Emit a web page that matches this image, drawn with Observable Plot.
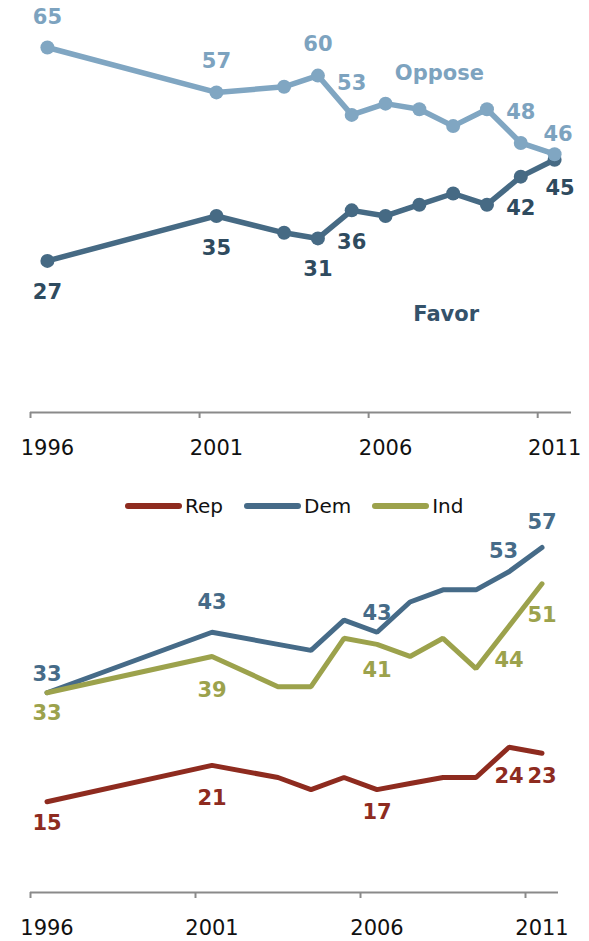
<!DOCTYPE html>
<html><head><meta charset="utf-8">
<script src="https://cdn.jsdelivr.net/npm/d3@7"></script>
<script src="https://cdn.jsdelivr.net/npm/@observablehq/plot@0.6"></script>
<style>
html,body{margin:0;padding:0;background:#fff;}
#wrap{position:relative;width:589px;height:941px;overflow:hidden;font-family:"DejaVu Sans",Verdana,sans-serif;}
#top,#bottom{position:absolute;left:0;}
#top{top:0}
#bottom{top:470px}
#legend{position:absolute;left:125px;top:486px;height:40px;display:flex;align-items:center;font-size:20px;color:#111;z-index:2}
.item{display:flex;align-items:center;margin-right:21px}
.item svg{margin-right:3px;display:block}
</style></head>
<body><div id="wrap"><div id="top"></div><div id="legend"></div><div id="bottom"></div></div>
<script>
// ---- data ----
const years = [1996, 2001, 2003, 2004, 2005, 2006, 2007, 2008, 2009, 2010, 2011];
const oppose = [65, 57, 58, 60, 53, 55, 54, 51, 54, 48, 46];
const favor  = [27, 35, 32, 31, 36, 35, 37, 39, 37, 42, 45];
const rep = [15, 21, 19, 17, 19, 17, 18, 19, 19, 24, 23];
const dem = [33, 43, 41, 40, 45, 43, 48, 50, 50, 53, 57];
const ind = [33, 39, 34, 34, 42, 41, 39, 42, 37, 44, 51];
const tickLabelYears = [1996, 2001, 2006, 2011];
const tickMarkYears = [1995.5, 2000.5, 2005.5, 2010.5];
const seriesNames = ["Rep", "Dem", "Ind"];
const opposeLabelYears = [1996, 2001, 2004, 2005, 2010, 2011];
const favorLabelYears = [1996, 2001, 2004, 2005, 2010, 2011];
const partyLabelYears = [1996, 2001, 2006, 2010, 2011];

// ---- styles ----
const FONT = "DejaVu Sans, Verdana, sans-serif";
const C = {oppose: "#80a6c2", opposeText: "#7da3bf", favor: "#466a84", favorText: "#2f4b5f",
           Rep: "#8e2b1f", Dem: "#466b88", Ind: "#9ca24c", axis: "#8a8a8a"};
const offs = {
  oppose: {dy: {1996: -30, 2001: -31, 2004: -31, 2005: -32, 2010: -31, 2011: -20}, dx: {2011: 3.5}},
  favor:  {dy: {1996: 31.5, 2001: 32.5, 2004: 31, 2005: 32, 2010: 32, 2011: 28}, dx: {2011: 5.5}},
  Dem: {dy: {1996: -18, 2001: -30, 2006: -19, 2010: -20, 2011: -25}, dx: {2010: -5.5}},
  Ind: {dy: {1996: 21, 2001: 33.5, 2006: 25.5, 2010: 34, 2011: 31.5}, dx: {}},
  Rep: {dy: {1996: 22, 2001: 32.5, 2006: 22.5, 2010: 29, 2011: 23}, dx: {}}
};

const rows = vals => years.map((year, i) => ({year, value: vals[i]}));
function labels(data, labelYears, o, fill) {
  return data.filter(d => labelYears.includes(d.year)).map(d =>
    Plot.text([d], {x: "year", y: "value", text: d => String(d.value), dy: o.dy[d.year] || 0, dx: o.dx[d.year] || 0,
      fill, fontSize: 21, fontWeight: "bold", fontFamily: FONT}));
}
function axisMarks() {
  return [
    Plot.ruleY([0], {stroke: C.axis, strokeWidth: 2}),
    Plot.axisX({ticks: tickMarkYears, tickSize: 6, tickFormat: () => "", label: null, stroke: C.axis, strokeWidth: 2}),
    Plot.axisX({ticks: tickLabelYears, tickSize: 0, tickPadding: 28, tickFormat: d => String(d), label: null,
      fontSize: 21, fontFamily: FONT, fill: "#111"})
  ];
}

const opp = rows(oppose), fav = rows(favor);
const topPlot = Plot.plot({
  width: 589, height: 470, marginTop: 47, marginBottom: 58, marginLeft: 30, marginRight: 18,
  style: {background: "transparent", overflow: "visible"},
  x: {domain: [1995.5, 2011.5], axis: null, label: null},
  y: {domain: [0, 65], axis: null},
  marks: [
    ...axisMarks(),
    Plot.line(fav, {x: "year", y: "value", stroke: C.favor, strokeWidth: 5.5, strokeLinejoin: "round"}),
    Plot.dot(fav, {x: "year", y: "value", r: 7, fill: C.favor}),
    Plot.line(opp, {x: "year", y: "value", stroke: C.oppose, strokeWidth: 5.5, strokeLinejoin: "round"}),
    Plot.dot(opp, {x: "year", y: "value", r: 7, fill: C.oppose}),
    ...labels(opp, opposeLabelYears, offs.oppose, C.opposeText),
    ...labels(fav, favorLabelYears, offs.favor, C.favorText),
    Plot.text(opp.filter(d => d.year === 2007), {x: "year", y: "value", text: () => "Oppose", dx: 20, dy: -36,
      fill: C.opposeText, fontSize: 21, fontWeight: "bold", fontFamily: FONT}),
    Plot.text(fav.filter(d => d.year === 2008), {x: "year", y: "value", text: () => "Favor", dx: -7, dy: 121,
      fill: "#34526a", fontSize: 21, fontWeight: "bold", fontFamily: FONT})
  ]
});
document.getElementById("top").appendChild(topPlot);

const party = {Rep: rows(rep), Dem: rows(dem), Ind: rows(ind)};
const bottomPlot = Plot.plot({
  width: 589, height: 471, marginTop: 77, marginBottom: 49, marginLeft: 30, marginRight: 31,
  style: {background: "transparent", overflow: "visible"},
  x: {domain: [1995.5, 2011.5], axis: null, label: null},
  y: {domain: [0, 57], axis: null},
  marks: [
    ...axisMarks(),
    ...["Rep", "Dem", "Ind"].map(s => Plot.line(party[s], {x: "year", y: "value", stroke: C[s], strokeWidth: 5,
      strokeLinejoin: "miter", strokeLinecap: "round"})),
    ...["Rep", "Dem", "Ind"].flatMap(s => labels(party[s], partyLabelYears, offs[s], C[s]))
  ]
});
document.getElementById("bottom").appendChild(bottomPlot);

// legend
const legend = document.getElementById("legend");
seriesNames.forEach(s => {
  const item = document.createElement("div");
  item.className = "item";
  item.innerHTML = `<svg width="57" height="8"><line x1="3" x2="54" y1="4" y2="4" stroke="${C[s]}" stroke-width="6" stroke-linecap="round"/></svg><span>${s}</span>`;
  legend.appendChild(item);
});
</script>
</body></html>
